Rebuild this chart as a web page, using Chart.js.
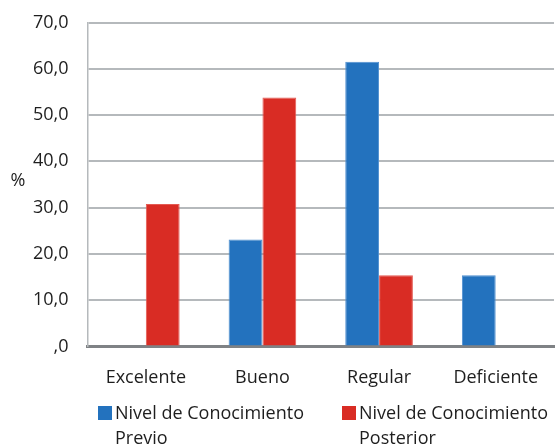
<!DOCTYPE html>
<html lang="es">
<head>
<meta charset="utf-8">
<title>Nivel de Conocimiento</title>
<script src="https://cdn.jsdelivr.net/npm/chart.js@4.4.1/dist/chart.umd.min.js"></script>
<style>
  html, body { margin: 0; padding: 0; background: #fff; overflow: hidden; }
  #wrap { position: relative; width: 556px; height: 448px; overflow: hidden; }
  #box { position: absolute; left: 0; top: 0; width: 559px; height: 448px; }
  #legend { position: absolute; left: 0; top: 0; font-family: "Open Sans", sans-serif; font-size: 18px; color: #1e1e1e; }
  .item { position: absolute; top: 400px; display: flex; align-items: flex-start; line-height: 25px; white-space: nowrap; }
  .swatch { width: 14px; height: 14px; margin-top: 6px; margin-right: 3px; }
</style>
</head>
<body>
<div id="wrap">
  <div id="box"><canvas id="barChart"></canvas></div>
  <div id="legend"></div>
</div>
<script>
// datos (%)
const categories = ["Excelente", "Bueno", "Regular", "Deficiente"];
const previo = [0, 23.1, 61.5, 15.4];
const posterior = [30.8, 53.8, 15.4, 0];
const seriesLabels = [["Nivel de Conocimiento", "Previo"], ["Nivel de Conocimiento", "Posterior"]];
const yTickLabels = [",0", "10,0", "20,0", "30,0", "40,0", "50,0", "60,0", "70,0"];
const yAxisTitle = "%";

const colors = ["#2372be", "#d92c24"];
const borders = ["#4f8fd0", "#e45a52"];
const fontFamily = "'Open Sans', sans-serif";

// titulo "%" horizontal a la izquierda del eje
const axisTitlePlugin = {
  id: "axisTitle",
  afterDraw: function(chart) {
    const ctx = chart.ctx;
    ctx.save();
    ctx.font = "18px " + fontFamily;
    ctx.fillStyle = "#1e1e1e";
    ctx.textAlign = "center";
    ctx.textBaseline = "middle";
    ctx.fillText(yAxisTitle, 18, 181);
    ctx.restore();
  }
};

const ctx = document.getElementById("barChart").getContext("2d");
const chart = new Chart(ctx, {
  type: "bar",
  data: {
    labels: categories,
    datasets: [previo, posterior].map(function(values, i) {
      return {
        label: seriesLabels[i].join(" "),
        data: values,
        backgroundColor: colors[i],
        borderColor: borders[i],
        borderWidth: 1,
        categoryPercentage: 0.58,
        barPercentage: 1.0
      };
    })
  },
  options: {
    responsive: true,
    maintainAspectRatio: false,
    animation: false,
    layout: { padding: { top: 22.5, left: 0, right: 0, bottom: 38 } },
    plugins: {
      legend: { display: false },
      tooltip: { enabled: false }
    },
    scales: {
      x: {
        grid: { display: false, drawTicks: false },
        border: { display: true, color: "#7f8285", width: 3 },
        ticks: {
          padding: 21,
          color: "#1e1e1e",
          font: { family: fontFamily, size: 18 }
        }
      },
      y: {
        min: 0,
        max: 70,
        afterFit: function(scale) {
          scale.width = 87.5;
          // el padding de los ticks no debe empujar el area hacia abajo
          scale.paddingTop = 11;
        },
        grid: { color: "#b5b9bc", lineWidth: 2, drawTicks: false },
        border: { display: true, color: "#b5b9bc", width: 1.5 },
        ticks: {
          stepSize: 10,
          padding: 19,
          color: "#1e1e1e",
          font: { family: fontFamily, size: 18 },
          callback: function(value, index) {
            return yTickLabels[index];
          }
        }
      }
    }
  },
  plugins: [axisTitlePlugin]
});

// leyenda en HTML, dos lineas por serie
const legendLeft = [98, 342];
const legendEl = document.getElementById("legend");
chart.data.datasets.forEach(function(ds, i) {
  const item = document.createElement("div");
  item.className = "item";
  item.style.left = legendLeft[i] + "px";
  const swatch = document.createElement("span");
  swatch.className = "swatch";
  swatch.style.background = colors[i];
  const text = document.createElement("span");
  text.innerHTML = seriesLabels[i].join("<br>");
  item.appendChild(swatch);
  item.appendChild(text);
  legendEl.appendChild(item);
});
</script>
</body>
</html>
